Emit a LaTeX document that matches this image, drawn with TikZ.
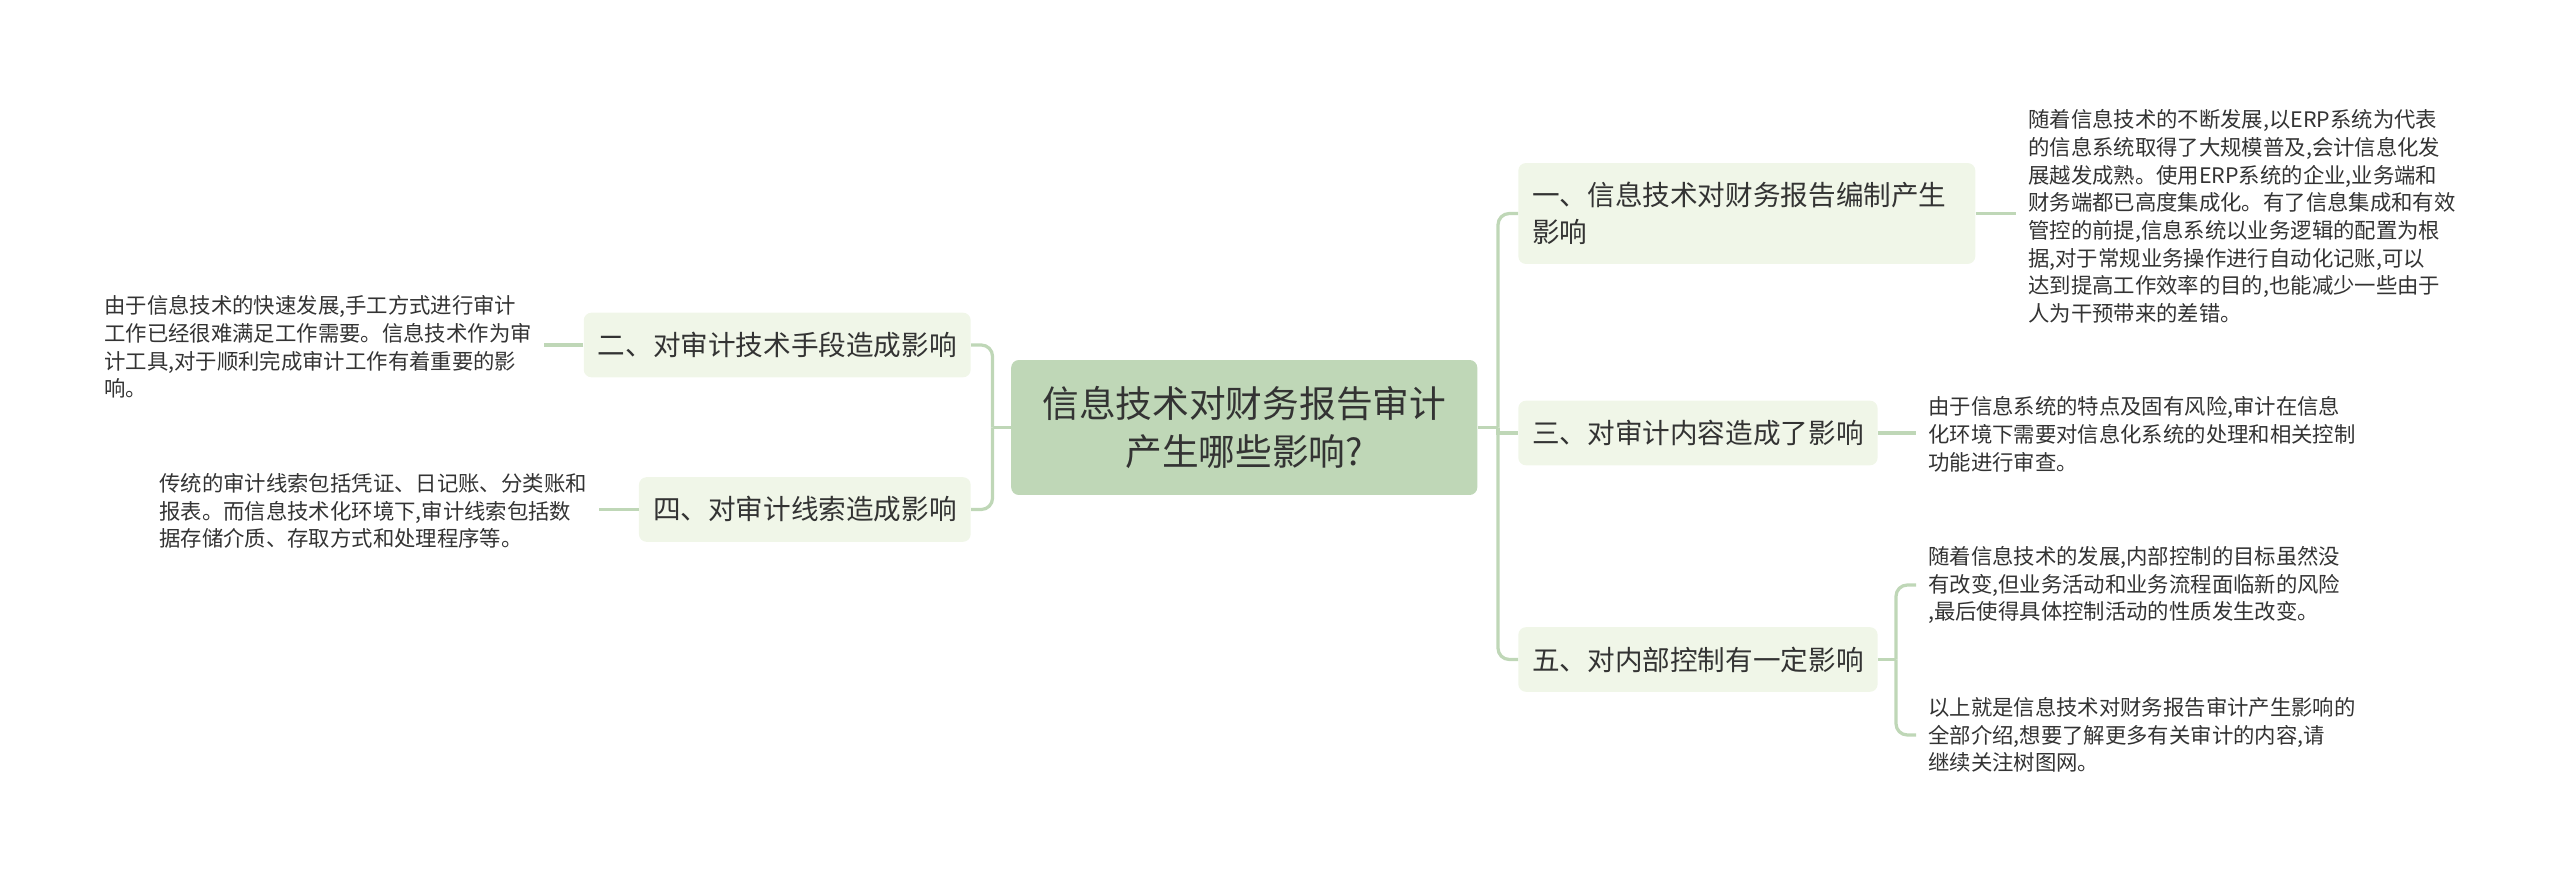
\documentclass[tikz,border=0pt]{standalone}
\usepackage{fontspec}
\setmainfont{Noto Sans CJK SC}
\usepackage{xcolor}

\definecolor{rootGreen}{HTML}{BFD7B7}
\definecolor{paleGreen}{HTML}{F0F6E8}
\definecolor{inkGray}{HTML}{333333}

\tikzset
  {
    rootBox/.style=    {fill=rootGreen, rounded corners=5.5pt, inner sep=0pt, minimum width=331.5pt, minimum height=96pt, align=center, text=inkGray, font=\fontsize{26.1}{34.1}\selectfont},
    branchBox/.style=  {fill=paleGreen, rounded corners=5.5pt, inner xsep=10pt, inner ysep=0pt, minimum height=46pt, align=left, text=inkGray, font=\fontsize{19.63}{26}\selectfont},
    leafText/.style=   {inner xsep=8.5pt, inner ysep=0pt, align=left, text=inkGray, font=\fontsize{15.2}{19.7}\selectfont},
    myLink/.style=     {rootGreen, line width=2.3pt, rounded corners=8pt}
  }

\begin{document}
\begin{tikzpicture}[x=0.025cm, y=-0.025cm]

\useasboundingbox (0,0) rectangle (2560,879);

% root
\node[rootBox] (root) at (1244.25,427.5) {信息技术对财务报告审计\\产生哪些影响?};

% right branches
\node[branchBox, anchor=west, text width=305pt, minimum height=71.8pt] (one) at (1518,213.5) {一、信息技术对财务报告编制产生\\影响};
\node[branchBox, anchor=west] (three) at (1518,433) {三、对审计内容造成了影响};
\node[branchBox, anchor=west] (five) at (1518,659.5) {五、对内部控制有一定影响};

% left branches
\node[branchBox, anchor=east] (two) at (971,345) {二、对审计技术手段造成影响};
\node[branchBox, anchor=east] (four) at (971,509.5) {四、对审计线索造成影响};

% leaves
\node[leafText, anchor=west] (leafOne) at (2016,216.5) {随着信息技术的不断发展,以ERP系统为代表\\的信息系统取得了大规模普及,会计信息化发\\展越发成熟。使用ERP系统的企业,业务端和\\财务端都已高度集成化。有了信息集成和有效\\管控的前提,信息系统以业务逻辑的配置为根\\据,对于常规业务操作进行自动化记账,可以\\达到提高工作效率的目的,也能减少一些由于\\人为干预带来的差错。};
\node[leafText, anchor=west] (leafThree) at (1916,434.5) {由于信息系统的特点及固有风险,审计在信息\\化环境下需要对信息化系统的处理和相关控制\\功能进行审查。};
\node[leafText, anchor=west] (leafFiveA) at (1916,585) {随着信息技术的发展,内部控制的目标虽然没\\有改变,但业务活动和业务流程面临新的风险\\,最后使得具体控制活动的性质发生改变。};
\node[leafText, anchor=west] (leafFiveB) at (1916,735) {以上就是信息技术对财务报告审计产生影响的\\全部介绍,想要了解更多有关审计的内容,请\\继续关注树图网。};
\node[leafText, anchor=east] (leafTwo) at (544,347) {由于信息技术的快速发展,手工方式进行审计\\工作已经很难满足工作需要。信息技术作为审\\计工具,对于顺利完成审计工作有着重要的影\\响。};
\node[leafText, anchor=east] (leafFour) at (599,511) {传统的审计线索包括凭证、日记账、分类账和\\报表。而信息技术化环境下,审计线索包括数\\据存储介质、存取方式和处理程序等。};

% trunks
\coordinate (trunkRight) at (1498,427.5);
\coordinate (trunkLeft) at (992.5,427.5);
\coordinate (trunkFive) at (1896,659.5);

\draw[myLink] (root.east) -- (trunkRight);
\draw[myLink] (trunkRight) |- (one.west);
\draw[myLink] (trunkRight) |- (five.west);
\draw[myLink, sharp corners] (trunkRight) |- (three.west);

\draw[myLink] (root.west) -- (trunkLeft);
\draw[myLink] (trunkLeft) |- (two.east);
\draw[myLink] (trunkLeft) |- (four.east);

\draw[myLink] (one.east) -- (leafOne.west |- one.east);
\draw[myLink] (three.east) -- (leafThree.west |- three.east);
\draw[myLink] (two.west) -- (leafTwo.east |- two.west);
\draw[myLink] (four.west) -- (leafFour.east |- four.west);

\draw[myLink] (five.east) -- (trunkFive);
\draw[myLink] (trunkFive) |- (leafFiveA.west);
\draw[myLink] (trunkFive) |- (leafFiveB.west);

\end{tikzpicture}
\end{document}
